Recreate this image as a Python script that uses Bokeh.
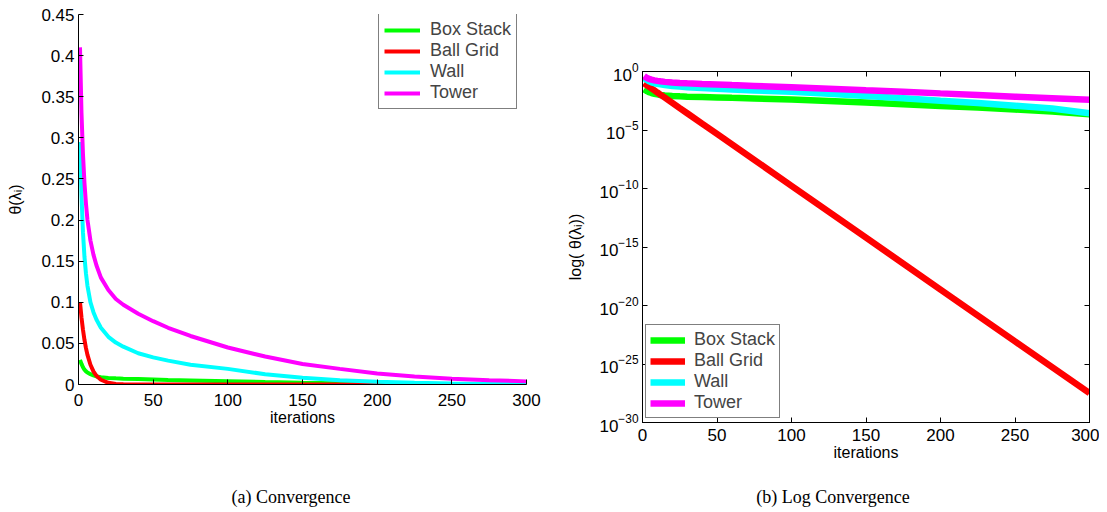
from bokeh.plotting import figure
from bokeh.models import Range1d, FixedTicker, LinearAxis, LogAxis, Legend, LegendItem, Div
from bokeh.layouts import row, column
from bokeh.embed import file_html
from bokeh.resources import INLINE

# ---------------- data ----------------
iters = [1, 2, 3, 4, 5, 6, 8, 10, 12, 15, 20, 25, 30, 40, 50, 60, 75,
         100, 125, 150, 175, 200, 225, 250, 275, 300]
box_stack = [0.030, 0.025, 0.021, 0.018, 0.016, 0.0145, 0.0125, 0.011, 0.0098,
             0.0088, 0.0080, 0.0075, 0.0071, 0.0066, 0.0061, 0.0056, 0.0050,
             0.0040, 0.0030, 0.0022, 0.0016, 0.00115, 0.00082, 0.00057,
             0.00038, 0.00022]
wall = [0.295, 0.23, 0.185, 0.155, 0.135, 0.12, 0.10, 0.088, 0.079, 0.069,
        0.058, 0.051, 0.046, 0.038, 0.033, 0.029, 0.024, 0.019, 0.0125,
        0.0082, 0.0052, 0.0032, 0.0020, 0.0012, 0.0007, 0.00027]
tower = [0.41, 0.33, 0.28, 0.245, 0.22, 0.20, 0.175, 0.158, 0.145, 0.13,
         0.115, 0.104, 0.097, 0.086, 0.077, 0.069, 0.059, 0.045, 0.034,
         0.025, 0.019, 0.0135, 0.0098, 0.0071, 0.0052, 0.0038]
ball_iters = [1, 2, 3, 4, 5, 6, 8, 10, 12, 15, 20, 25, 30, 40, 50, 75, 100,
              150, 200, 250, 300]
ball_grid = [0.1, 0.0816, 0.0665, 0.0542, 0.0442, 0.036, 0.024, 0.0159,
             0.0106, 0.0058, 0.0021, 7.5e-4, 2.7e-4, 3.5e-5, 4.6e-6, 2.8e-8,
             1.7e-10, 6.3e-15, 2.3e-19, 8.5e-24, 3.2e-28]

series_names = ["Box Stack", "Ball Grid", "Wall", "Tower"]
series_colors = ["#00ff00", "#ff0000", "#00ffff", "#ff00ff"]

x_ticks = [0, 50, 100, 150, 200, 250, 300]
lin_y_ticks = [0, 0.05, 0.1, 0.15, 0.2, 0.25, 0.3, 0.35, 0.4, 0.45]
lin_y_labels = ["0", "0.05", "0.1", "0.15", "0.2", "0.25", "0.3", "0.35", "0.4", "0.45"]
log_y_ticks = [1e-30, 1e-25, 1e-20, 1e-15, 1e-10, 1e-5, 1e0]

captions = ["(a) Convergence", "(b) Log Convergence"]

FONT = "Liberation Sans"


def style_axis(ax, standoff=4, label_standoff=0, label_size="16px"):
    ax.major_label_text_font = FONT
    ax.major_label_text_font_size = "17px"
    ax.major_label_text_color = "black"
    ax.axis_label_text_font = FONT
    ax.axis_label_text_font_size = label_size
    ax.axis_label_text_font_style = "normal"
    ax.axis_label_text_color = "black"
    ax.axis_line_color = "black"
    ax.major_tick_line_color = "black"
    ax.major_tick_in = 5
    ax.major_tick_out = 0
    ax.minor_tick_line_color = None
    ax.major_label_standoff = standoff
    ax.axis_label_standoff = label_standoff


def hidden_labels(ax):
    ax.major_label_text_font_size = "1px"
    ax.major_label_text_color = None
    ax.major_label_standoff = 0


def make_series(p, width):
    xs = [iters, ball_iters, iters, iters]
    ys = [box_stack, ball_grid, wall, tower]
    rs = []
    for x, y, c in zip(xs, ys, series_colors):
        rs.append(p.line(x, y, line_color=c, line_width=width))
    return rs


def make_legend(p, rs, loc, padding, glyph_width, standoff):
    items = [LegendItem(label=n, renderers=[r]) for n, r in zip(series_names, rs)]
    leg = Legend(items=items, location=loc, padding=padding, spacing=0, margin=0,
                 glyph_width=glyph_width, glyph_height=20, label_height=20,
                 label_standoff=standoff, label_text_font=FONT,
                 label_text_font_size="18px", border_line_color="black",
                 border_line_width=1, background_fill_color="white",
                 background_fill_alpha=1.0)
    p.add_layout(leg)


FIG_H = 486

# ---------------- (a) linear ----------------
p1 = figure(width=560, height=FIG_H, output_backend="svg", toolbar_location=None,
            x_range=Range1d(0, 300), y_range=Range1d(0, 0.45),
            min_border_left=78, min_border_right=34, min_border_top=14,
            min_border_bottom=FIG_H - 384)
p1.outline_line_color = None
p1.grid.visible = False
p1.xaxis.ticker = FixedTicker(ticks=x_ticks)
p1.yaxis.ticker = FixedTicker(ticks=lin_y_ticks)
p1.yaxis.major_label_overrides = {t: l for t, l in zip(lin_y_ticks, lin_y_labels)}
p1.xaxis.axis_label = "iterations"
p1.yaxis.axis_label = "θ(λᵢ)"
style_axis(p1.xaxis[0], standoff=9, label_standoff=0)
style_axis(p1.yaxis[0], standoff=4, label_standoff=14)
r1 = make_series(p1, 4)
make_legend(p1, r1, (300, 275), 5, 36, 10)

# ---------------- (b) log ----------------
p2 = figure(width=539, height=FIG_H, output_backend="svg", toolbar_location=None,
            x_range=Range1d(0, 300), y_range=Range1d(1e-30, 1), y_axis_type="log",
            min_border_left=82, min_border_right=10, min_border_top=71,
            min_border_bottom=FIG_H - 422)
p2.outline_line_color = "black"
p2.grid.visible = False
p2.xaxis.ticker = FixedTicker(ticks=x_ticks)
p2.yaxis.ticker = FixedTicker(ticks=log_y_ticks)
p2.xaxis.axis_label = "iterations"
p2.yaxis.axis_label = "log( θ(λᵢ))"
style_axis(p2.xaxis[0], standoff=6, label_standoff=0)
style_axis(p2.yaxis[0], standoff=4, label_standoff=12)

top_ax = LinearAxis(ticker=FixedTicker(ticks=x_ticks))
style_axis(top_ax)
hidden_labels(top_ax)
p2.add_layout(top_ax, "above")
right_ax = LogAxis(ticker=FixedTicker(ticks=log_y_ticks))
style_axis(right_ax)
hidden_labels(right_ax)
p2.add_layout(right_ax, "right")

r2 = make_series(p2, 6.5)
make_legend(p2, r2, (3, 4), 4, 35, 9)


def caption_div(text, width, indent):
    return Div(text=text, width=width, height=22, margin=(0, 0, 0, 0),
               styles={"text-align": "center", "font-family": "Liberation Serif",
                       "font-size": "18px", "color": "black", "line-height": "22px",
                       "text-indent": indent})


div_a = caption_div(captions[0], 560, "22px")
div_b = caption_div(captions[1], 539, "7px")

layout = row(column(p1, div_a), column(p2, div_b))

open("out.html", "w").write(file_html(layout, INLINE))
